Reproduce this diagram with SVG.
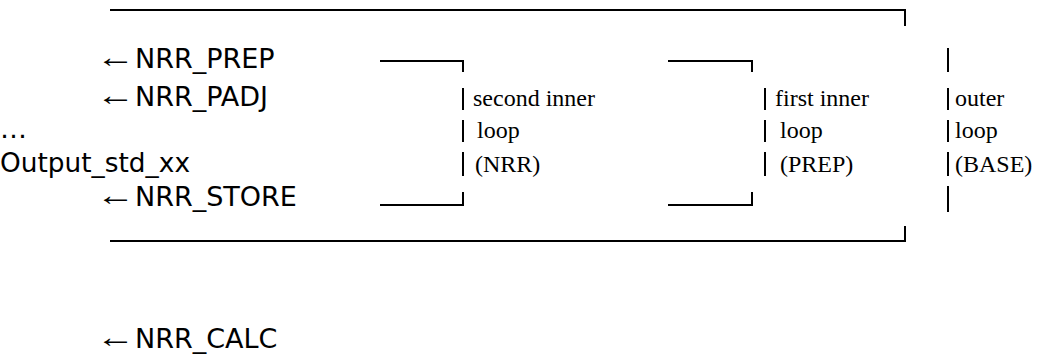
<svg xmlns="http://www.w3.org/2000/svg" width="1058" height="362" viewBox="0 0 1058 362">
<style>
.sans{font-family:"DejaVu Sans","Verdana",sans-serif;font-size:27px;fill:#000}
.arr{font-family:"Liberation Serif","Times New Roman",serif;font-size:30px;fill:#000}
.ser{font-family:"Liberation Serif","Times New Roman",serif;font-size:24px;fill:#000}
.ln{stroke:#000;stroke-width:2;fill:none}
</style>
<rect width="1058" height="362" fill="#fff"/>
<g id="connectors">
<path class="ln" d="M110,10 H905 V26"/>
<path class="ln" d="M110,241 H905 V226"/>
<path class="ln" d="M380,61 H463 V72"/>
<path class="ln" d="M668,61 H752 V72"/>
<path class="ln" d="M380,205 H463 V192"/>
<path class="ln" d="M668,205 H752 V192"/>
<path class="ln" d="M948,48 V72 M948,88 V110 M948,120 V142 M948,152 V176 M948,186 V212"/>
<path class="ln" d="M463,88 V110 M463,120 V142 M463,152 V176"/>
<path class="ln" d="M765,88 V110 M765,120 V142 M765,152 V176"/>
</g>
<g id="nrr_prep"><text class="arr" transform="translate(96,67) scale(1.3,1)">←</text><text class="sans" x="135" y="68">NRR_PREP</text></g>
<g id="nrr_padj"><text class="arr" transform="translate(96,105) scale(1.3,1)">←</text><text class="sans" x="135" y="106">NRR_PADJ</text></g>
<g id="ellipsis"><text class="sans" x="0" y="138">…</text></g>
<g id="output"><text class="sans" x="0" y="172" textLength="190" lengthAdjust="spacingAndGlyphs">Output_std_xx</text></g>
<g id="nrr_store"><text class="arr" transform="translate(96,205) scale(1.3,1)">←</text><text class="sans" x="135" y="206">NRR_STORE</text></g>
<g id="nrr_calc"><text class="arr" transform="translate(96,347) scale(1.3,1)">←</text><text class="sans" x="135" y="348">NRR_CALC</text></g>
<g id="second_inner"><text class="ser" x="473" y="106">second inner</text><text class="ser" x="477" y="138">loop</text><text class="ser" x="475" y="172">(NRR)</text></g>
<g id="first_inner"><text class="ser" x="775" y="106">first inner</text><text class="ser" x="780" y="138">loop</text><text class="ser" x="780" y="172">(PREP)</text></g>
<g id="outer"><text class="ser" x="955" y="106">outer</text><text class="ser" x="955" y="138">loop</text><text class="ser" x="955" y="172">(BASE)</text></g>
</svg>
